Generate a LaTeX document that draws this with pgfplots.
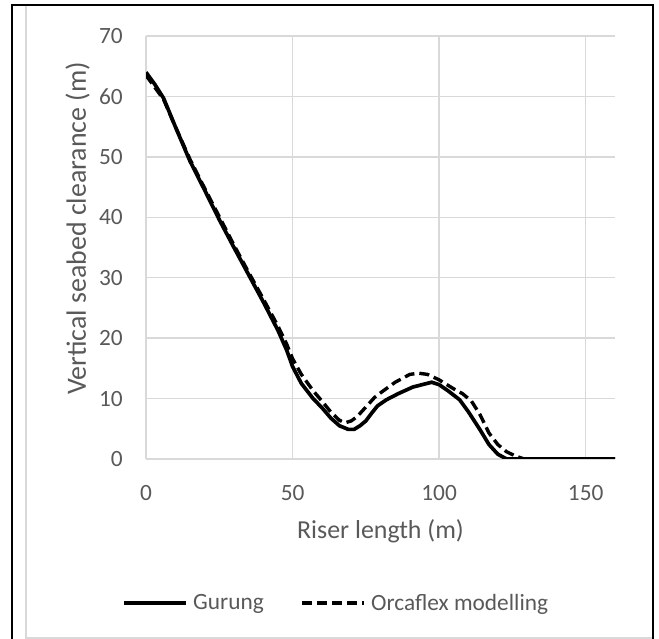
\documentclass[border=0pt]{standalone}
\usepackage{pgfplots}
\pgfplotsset{compat=1.18}
\usepackage{fontspec}
\setmainfont{Carlito}
\definecolor{gridgray}{HTML}{D9D9D9}
\definecolor{labelgray}{HTML}{595959}
\begin{document}
\begin{tikzpicture}[x=1bp,y=1bp]
\useasboundingbox (0,0) rectangle (659,639);
\draw[gridgray, line width=2bp] (26,-5) -- (26,634);
\draw[gridgray, line width=2bp] (26,1.2) -- (653,1.2);
\draw[black, line width=2.2bp] (12,-5) -- (12,634) -- (653,634) -- (653,-5);
\begin{axis}[
  at={(146bp,180bp)}, anchor=south west,
  scale only axis, width=469bp, height=423bp,
  xmin=0, xmax=160, ymin=0, ymax=70,
  xtick={0,50,100,150}, ytick={0,10,...,70},
  grid=major, grid style={draw=gridgray, line width=1.3bp},
  axis line style={draw=none},
  major tick length=0pt,
  /pgf/number format/assume math mode=true,
  tick label style={font=\fontsize{23.4}{24}\selectfont, text=labelgray, inner sep=0pt},
  yticklabel style={anchor=east, xshift=-23bp},
  xticklabel style={anchor=north, yshift=-26bp},
  label style={font=\fontsize{26}{27}\selectfont, text=labelgray, inner sep=0pt},
  xlabel={Riser length (m)},
  ylabel={Vertical seabed clearance (m)},
  xlabel style={at={(axis description cs:0.5,-0.187)}, anchor=base},
  ylabel style={at={(axis description cs:-0.128,0.545)}, anchor=base, rotate=0,
    font=\fontsize{28}{29}\selectfont},
  legend style={at={(axis description cs:0.409,-0.340)}, anchor=center, draw=none,
    fill=none, font=\fontsize{23.4}{24}\selectfont, text=labelgray,
    legend columns=2, /tikz/every even column/.append style={column sep=32bp},
    nodes={inner sep=5bp}},
  legend image code/.code={\draw[#1] (0bp,0bp) -- (62bp,0bp);},
]
\addplot[black, line width=3.7bp, line join=round] coordinates {
(0,64) (3,62) (6,59.7) (10,55) (15,49.3) (20,44.5) (25,39.6) (30,35) (35,30.5)
(40,26) (45,21.3) (48,18) (50,15.3) (53,12.5) (57,10) (60,8.5) (63,6.8) (66,5.5)
(69,4.9) (71,4.9) (73,5.5) (75,6.3) (77,7.6) (79,8.8) (82,9.8) (86,10.8) (91,11.9)
(95,12.4) (97.5,12.7) (100,12.3) (103,11.3) (107,9.8) (110,7.8) (114,4.8)
(117,2.4) (120,0.8) (123,0) (160,0)
};
\addlegendentry{Gurung}
\addplot[black, line width=3.4bp, dash pattern=on 10bp off 5bp] coordinates {
(0,63.5) (3,61.5) (6,59.5) (10,55) (15,49.6) (20,44.8) (25,40.1) (30,35.4)
(35,30.9) (40,26.5) (45,22) (48,19) (50,16.6) (53,14) (57,11.3) (60,9.6)
(63,7.8) (66,6.4) (68,6.0) (70,6.3) (72,7.0) (75,8.6) (78,10.2) (81,11.3)
(85,12.7) (90,14) (93,14.2) (96,14) (100,13.1) (105,11.6) (108,10.8) (111,9.6)
(114,7.3) (117,4.3) (120,2.4) (123,1.2) (126,0.5) (129,0) (160,0)
};
\addlegendentry{Orcaflex modelling}
\end{axis}
\end{tikzpicture}
\end{document}
